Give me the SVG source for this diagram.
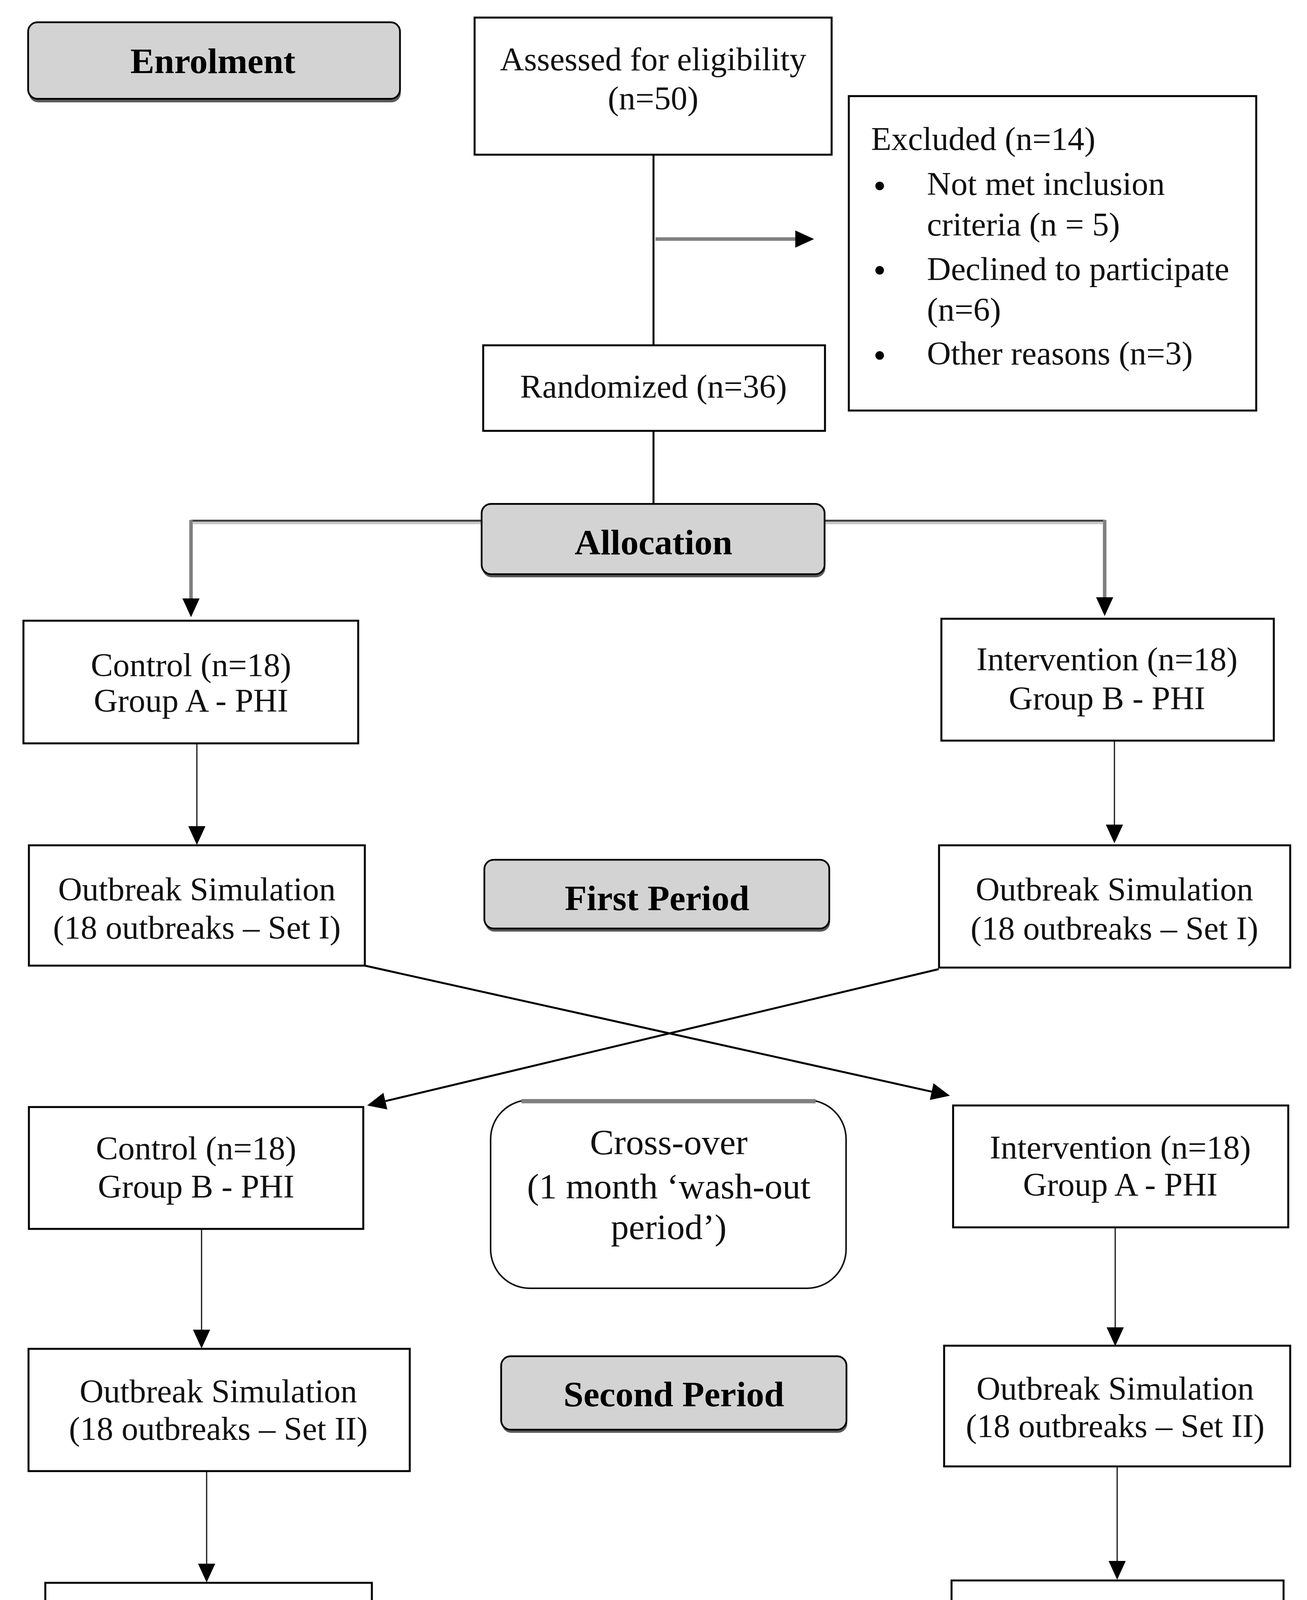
<svg xmlns="http://www.w3.org/2000/svg" width="3346" height="4409" viewBox="0 0 3346 4409">
<style>
.bg{fill:#ffffff}
.box{fill:#ffffff;stroke:#000;stroke-width:5}
.lbl{fill:#d3d3d3;stroke:#000;stroke-width:4.5}
.shd{fill:#5a5a5a}
.t{font-family:"Liberation Serif","Times New Roman",serif;font-size:85px;fill:#111;text-anchor:middle}
.tl{font-family:"Liberation Serif","Times New Roman",serif;font-size:85px;fill:#111}
.tb{font-family:"Liberation Serif","Times New Roman",serif;font-size:92px;font-weight:bold;fill:#000;text-anchor:middle}
.tc{font-family:"Liberation Serif","Times New Roman",serif;font-size:92px;fill:#111;text-anchor:middle}
.ln{stroke:#000;stroke-width:5;fill:none}
.thin{stroke:#111;stroke-width:3;fill:none}
.grey{stroke:#7f7f7f;stroke-width:9;fill:none}
</style>
<defs>
<marker id="ah" markerUnits="userSpaceOnUse" markerWidth="50" markerHeight="48" refX="0" refY="24" orient="auto">
<path d="M0,2 L48,24 L0,46 z" fill="#000"/>
</marker>
</defs>
<rect class="bg" x="0" y="0" width="3346" height="4409"/>

<g id="connectors">
<line class="ln" x1="1673" y1="396" x2="1673" y2="882"/>
<line class="grey" x1="1678" y1="612" x2="2036" y2="612" marker-end="url(#ah)"/>
<line class="ln" x1="1673" y1="1103" x2="1673" y2="1289"/>
<line x1="489" y1="1333" x2="1233" y2="1333" stroke="#3a3a3a" stroke-width="5"/>
<line x1="494" y1="1339" x2="1233" y2="1339" stroke="#c6c6c6" stroke-width="6"/>
<line class="grey" x1="489" y1="1331" x2="489" y2="1532" marker-end="url(#ah)"/>
<line x1="2113" y1="1333" x2="2828" y2="1333" stroke="#3a3a3a" stroke-width="5"/>
<line x1="2113" y1="1339" x2="2823" y2="1339" stroke="#c6c6c6" stroke-width="6"/>
<line class="grey" x1="2828" y1="1331" x2="2828" y2="1529" marker-end="url(#ah)"/>
<line class="thin" x1="504" y1="1905" x2="504" y2="2115" marker-end="url(#ah)"/>
<line class="thin" x1="2853" y1="1898" x2="2853" y2="2111" marker-end="url(#ah)"/>
<line class="ln" x1="934" y1="2472" x2="2385" y2="2794.6" marker-end="url(#ah)"/>
<line class="ln" x1="2403" y1="2481" x2="986.7" y2="2818.9" marker-end="url(#ah)"/>
<line class="thin" x1="516" y1="3148" x2="516" y2="3404" marker-end="url(#ah)"/>
<line class="thin" x1="2855" y1="3144" x2="2855" y2="3398" marker-end="url(#ah)"/>
<line class="thin" x1="529" y1="3768" x2="529" y2="4003" marker-end="url(#ah)"/>
<line class="thin" x1="2860" y1="3755" x2="2860" y2="3996" marker-end="url(#ah)"/>
</g>

<g id="enrolment">
<rect class="shd" x="74" y="64" width="952" height="198" rx="24"/>
<rect class="lbl" x="72" y="57" width="952" height="196" rx="24"/>
<text class="tb" x="545" y="187">Enrolment</text>
</g>

<g id="assessed">
<rect class="box" x="1215" y="45" width="914" height="351"/>
<text class="t" x="1672" y="180">Assessed for eligibility</text>
<text class="t" x="1672" y="280">(n=50)</text>
</g>

<g id="excluded">
<rect class="box" x="2173" y="246" width="1043" height="805"/>
<text class="tl" x="2230" y="384">Excluded (n=14)</text>
<circle cx="2252" cy="476" r="11" fill="#000"/>
<text class="tl" x="2373" y="499">Not met inclusion</text>
<text class="tl" x="2373" y="603">criteria (n = 5)</text>
<circle cx="2252" cy="692" r="11" fill="#000"/>
<text class="tl" x="2373" y="717">Declined to participate</text>
<text class="tl" x="2373" y="821">(n=6)</text>
<circle cx="2252" cy="910" r="11" fill="#000"/>
<text class="tl" x="2373" y="933">Other reasons (n=3)</text>
</g>

<g id="randomized">
<rect class="box" x="1237" y="884" width="875" height="219"/>
<text class="t" x="1673" y="1018">Randomized (n=36)</text>
</g>

<g id="allocation">
<rect class="shd" x="1235" y="1296" width="878" height="182" rx="24"/>
<rect class="lbl" x="1233" y="1290" width="878" height="180" rx="24"/>
<text class="tb" x="1673" y="1419">Allocation</text>
</g>

<g id="controlA">
<rect class="box" x="60" y="1589" width="857" height="314"/>
<text class="t" x="489" y="1731">Control (n=18)</text>
<text class="t" x="489" y="1822">Group A - PHI</text>
</g>

<g id="interventionB">
<rect class="box" x="2410" y="1584" width="851" height="312"/>
<text class="t" x="2834" y="1716">Intervention (n=18)</text>
<text class="t" x="2834" y="1816">Group B - PHI</text>
</g>

<g id="outbreak1left">
<rect class="box" x="74" y="2164" width="860" height="308"/>
<text class="t" x="504" y="2305">Outbreak Simulation</text>
<text class="t" x="504" y="2403">(18 outbreaks – Set I)</text>
</g>

<g id="firstperiod">
<rect class="shd" x="1242" y="2207" width="883" height="178" rx="24"/>
<rect class="lbl" x="1240" y="2201" width="883" height="176" rx="24"/>
<text class="tb" x="1682" y="2330">First Period</text>
</g>

<g id="outbreak1right">
<rect class="box" x="2404" y="2164" width="899" height="313"/>
<text class="t" x="2853" y="2305">Outbreak Simulation</text>
<text class="t" x="2853" y="2405">(18 outbreaks – Set I)</text>
</g>

<g id="controlB">
<rect class="box" x="74" y="2834" width="856" height="312"/>
<text class="t" x="502" y="2968">Control (n=18)</text>
<text class="t" x="502" y="3066">Group B - PHI</text>
</g>

<g id="crossover">
<rect x="1256" y="2816" width="910" height="482" rx="100" fill="#fff" stroke="#111" stroke-width="4"/>
<line x1="1335" y1="2819" x2="2088" y2="2819" stroke="#808080" stroke-width="11"/>
<text class="tc" x="1712" y="2955">Cross-over</text>
<text class="tc" x="1712" y="3068">(1 month ‘wash-out</text>
<text class="tc" x="1712" y="3172">period’)</text>
</g>

<g id="interventionA">
<rect class="box" x="2440" y="2830" width="858" height="312"/>
<text class="t" x="2868" y="2966">Intervention (n=18)</text>
<text class="t" x="2868" y="3061">Group A - PHI</text>
</g>

<g id="outbreak2left">
<rect class="box" x="73" y="3453" width="976" height="313"/>
<text class="t" x="559" y="3590">Outbreak Simulation</text>
<text class="t" x="559" y="3686">(18 outbreaks – Set II)</text>
</g>

<g id="secondperiod">
<rect class="shd" x="1285" y="3479" width="884" height="189" rx="24"/>
<rect class="lbl" x="1283" y="3472" width="884" height="188" rx="24"/>
<text class="tb" x="1725" y="3600">Second Period</text>
</g>

<g id="outbreak2right">
<rect class="box" x="2417" y="3445" width="886" height="309"/>
<text class="t" x="2855" y="3583">Outbreak Simulation</text>
<text class="t" x="2855" y="3679">(18 outbreaks – Set II)</text>
</g>

<g id="analysedleft">
<rect class="box" x="116" y="4052" width="836" height="321"/>
<text class="t" x="533" y="4191">Analysed</text>
<text class="t" x="533" y="4290">(36 outbreaks)</text>
</g>

<g id="analysis">
<rect class="shd" x="1320" y="4110" width="873" height="184" rx="24"/>
<rect class="lbl" x="1318" y="4104" width="873" height="183" rx="24"/>
<text class="tb" x="1755" y="4228">Analysis</text>
</g>

<g id="analysedright">
<rect class="box" x="2436" y="4046" width="850" height="327"/>
<text class="t" x="2860" y="4186">Analysed</text>
<text class="t" x="2860" y="4285">(36 outbreaks)</text>
</g>
</svg>
